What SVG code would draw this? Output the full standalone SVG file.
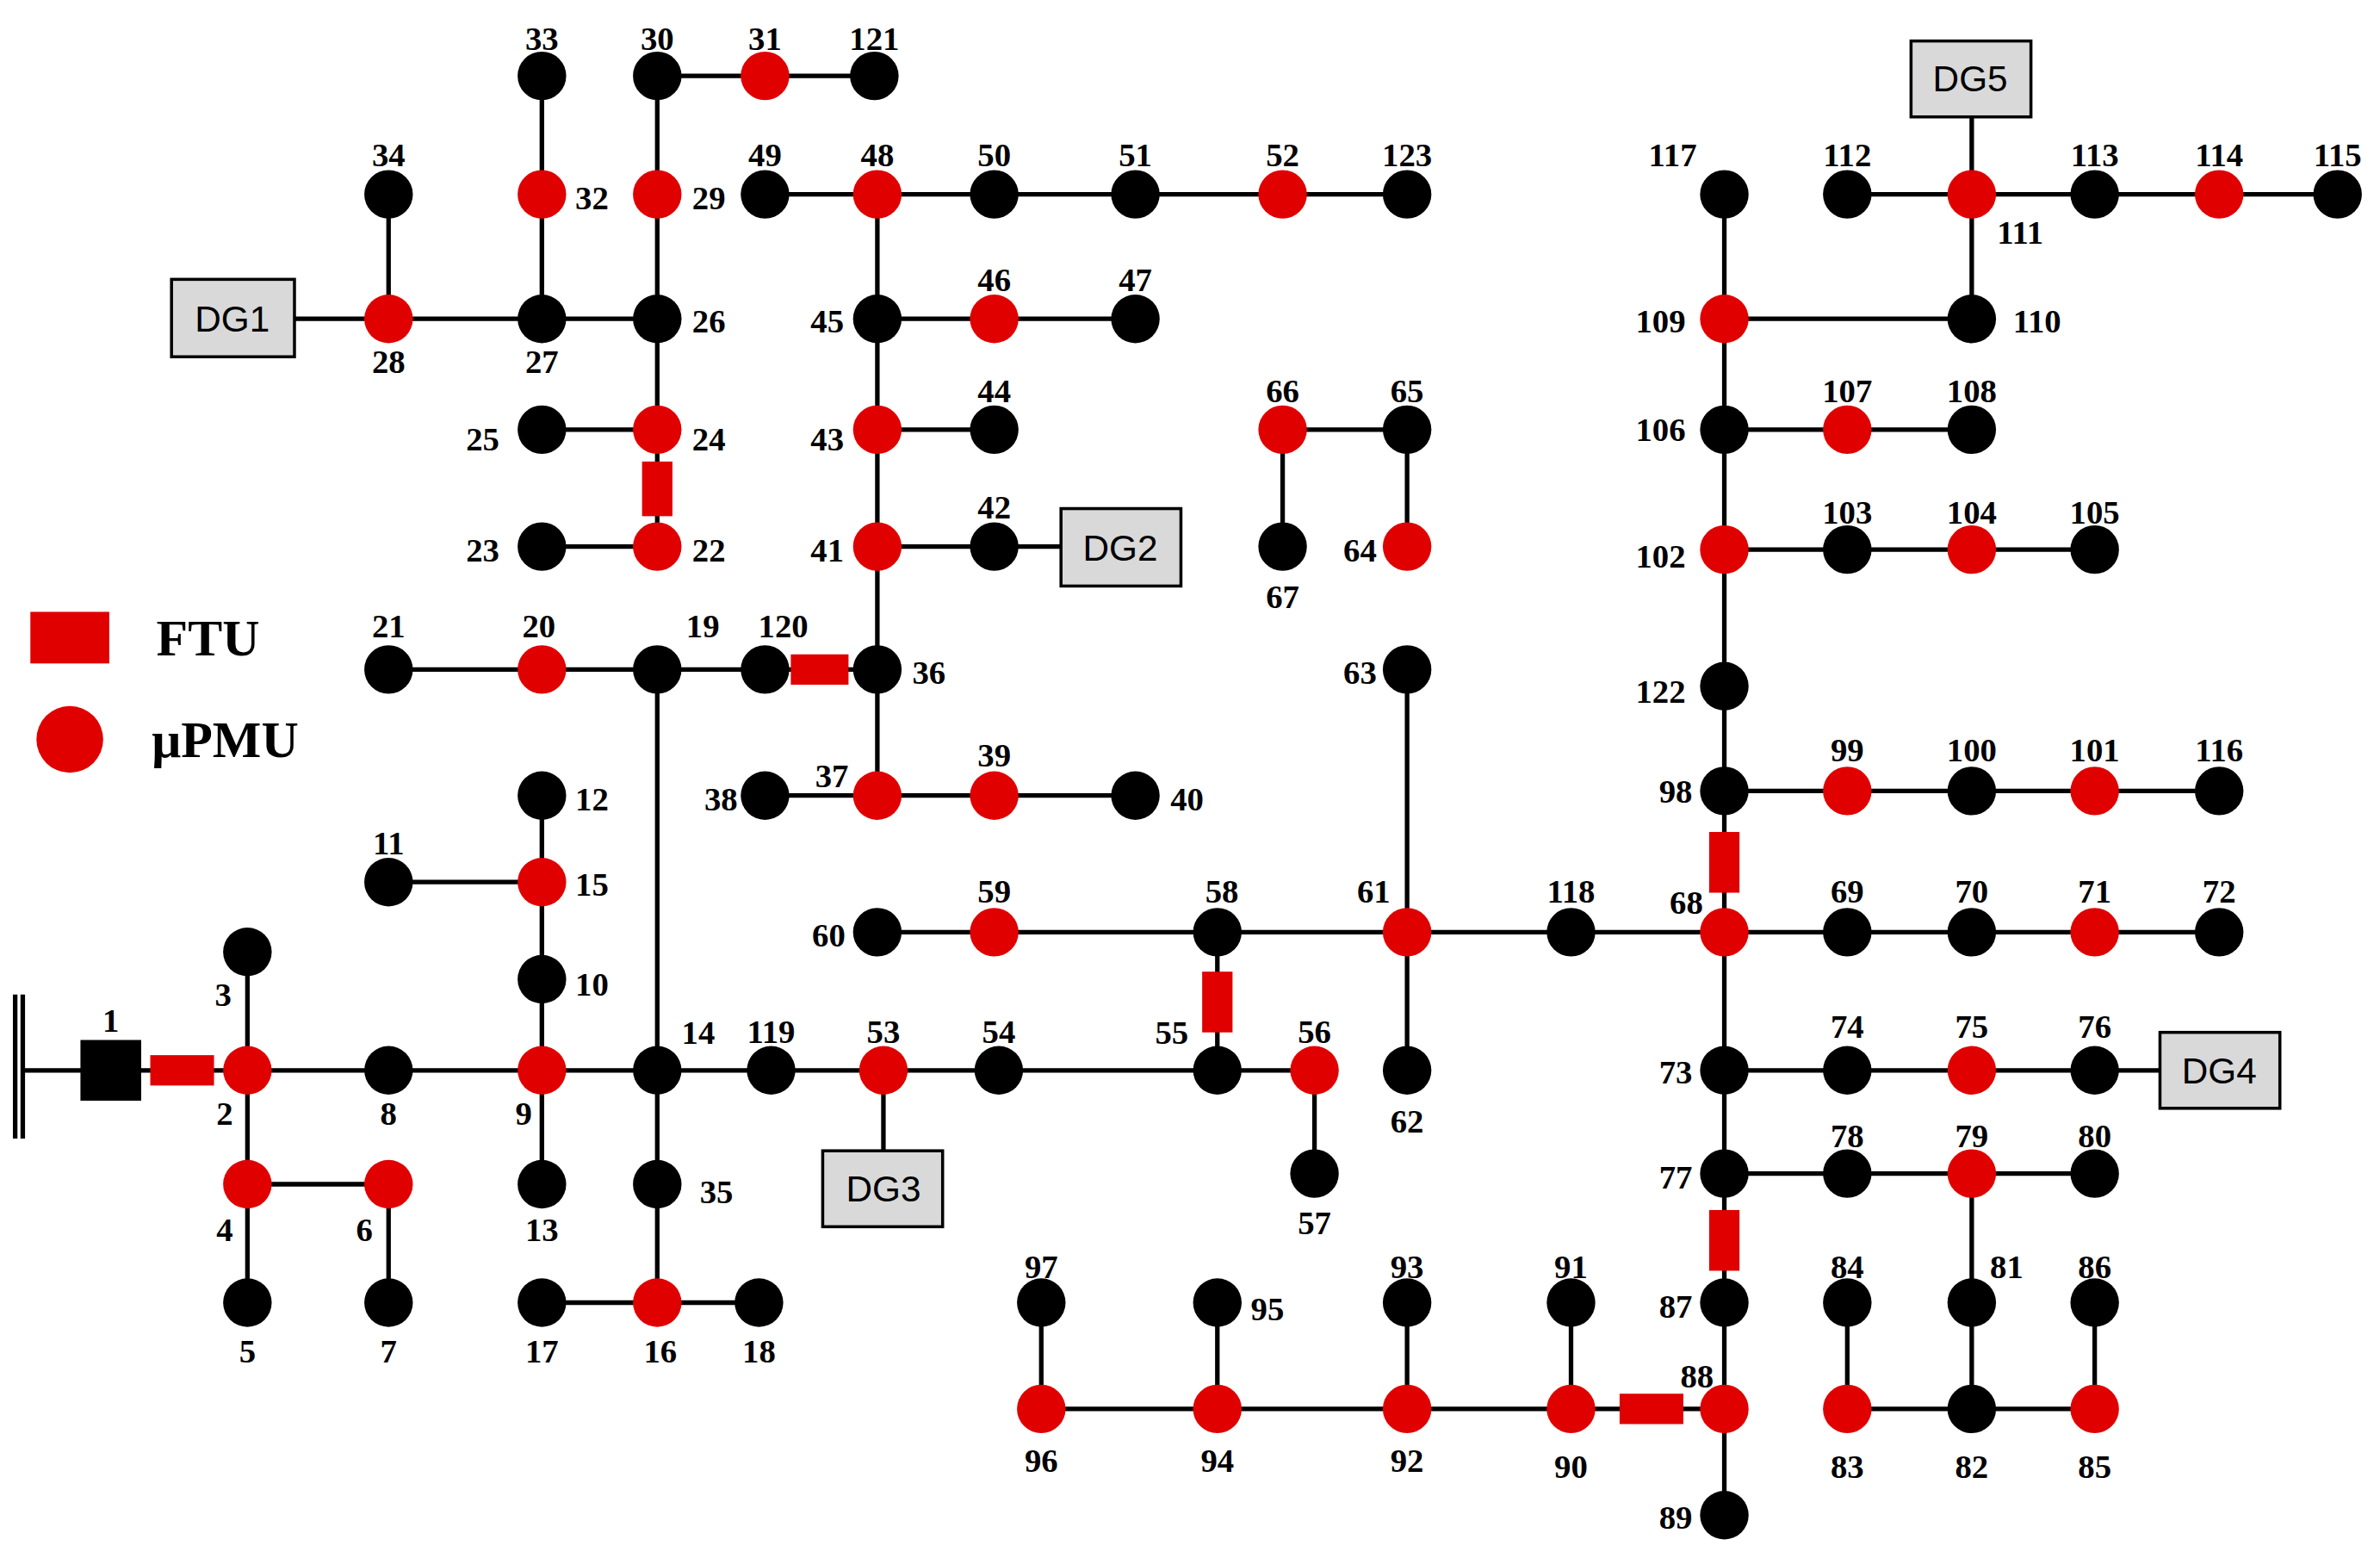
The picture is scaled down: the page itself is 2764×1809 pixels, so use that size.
<svg xmlns="http://www.w3.org/2000/svg" width="2764" height="1809" viewBox="0 0 2764 1809">
<style>
.e{stroke:#000;stroke-width:3;fill:none}
.b{fill:#000}.r{fill:#e00000}
.f{fill:#e00000}
text{font-family:"Liberation Serif",serif;font-weight:bold;font-size:22px;text-anchor:middle}
.dg rect{fill:#d9d9d9;stroke:#000;stroke-width:2}
.dg text{font-family:"Liberation Sans",sans-serif;font-weight:normal;font-size:24px}
.lg{font-size:34px;text-anchor:start}
</style>
<rect width="2764" height="1809" fill="#fff"/>
<g transform="scale(1.7628)">
<g id="connectors" class="e">
<path d="M10 655V750M15 655V750M15 705H73"/>
<path d="M73 705H163M163 627V858M163 780H256V858M163 705H433M357 524V780M256 581H357M433 441V858M357 858H500M433 705H866V773M582 705V758M802 705V614"/>
<path d="M256 441H578M433 360V50M357 360H433M357 283H433M194 210H433M256 128V210M357 50V210M433 50H576M578 128V524M504 524H748M578 360H699M578 283H655M578 210H748M504 128H927"/>
<path d="M578 614H1462M927 705V441M927 360V283H845V360M1136 998V128M1136 521H1462M1136 362H1380M1136 283H1299M1136 210H1299V128M1299 77V128M1217 128H1540M1136 705H1423M1136 773H1380M1299 773V928M1217 858V928H1380V858M686 858V928H1136M802 858V928M927 858V928M1035 858V928"/>
</g>
<g id="ftus" class="f">
<rect x="99" y="695" width="42" height="20"/>
<rect x="423" y="304" width="20" height="36"/>
<rect x="521" y="431" width="38" height="20"/>
<rect x="792" y="640" width="20" height="40"/>
<rect x="1126" y="548" width="20" height="40"/>
<rect x="1126" y="797" width="20" height="40"/>
<rect x="1067" y="918" width="42" height="20"/>
</g>
<g id="n1"><rect x="53" y="685" width="40" height="40" class="b"/><text x="73" y="672" dy=".35em">1</text></g>
<g id="n2"><circle cx="163" cy="705" r="16" class="r"/><text x="148" y="733" dy=".35em">2</text></g>
<g id="n3"><circle cx="163" cy="627" r="16" class="b"/><text x="147" y="655" dy=".35em">3</text></g>
<g id="n4"><circle cx="163" cy="780" r="16" class="r"/><text x="148" y="810" dy=".35em">4</text></g>
<g id="n5"><circle cx="163" cy="858" r="16" class="b"/><text x="163" y="890" dy=".35em">5</text></g>
<g id="n6"><circle cx="256" cy="780" r="16" class="r"/><text x="240" y="810" dy=".35em">6</text></g>
<g id="n7"><circle cx="256" cy="858" r="16" class="b"/><text x="256" y="890" dy=".35em">7</text></g>
<g id="n8"><circle cx="256" cy="705" r="16" class="b"/><text x="256" y="733" dy=".35em">8</text></g>
<g id="n9"><circle cx="357" cy="705" r="16" class="r"/><text x="345" y="733" dy=".35em">9</text></g>
<g id="n10"><circle cx="357" cy="645" r="16" class="b"/><text x="390" y="648" dy=".35em">10</text></g>
<g id="n11"><circle cx="256" cy="581" r="16" class="b"/><text x="256" y="555" dy=".35em">11</text></g>
<g id="n12"><circle cx="357" cy="524" r="16" class="b"/><text x="390" y="526" dy=".35em">12</text></g>
<g id="n13"><circle cx="357" cy="780" r="16" class="b"/><text x="357" y="810" dy=".35em">13</text></g>
<g id="n14"><circle cx="433" cy="705" r="16" class="b"/><text x="460" y="680" dy=".35em">14</text></g>
<g id="n15"><circle cx="357" cy="581" r="16" class="r"/><text x="390" y="582" dy=".35em">15</text></g>
<g id="n16"><circle cx="433" cy="858" r="16" class="r"/><text x="435" y="890" dy=".35em">16</text></g>
<g id="n17"><circle cx="357" cy="858" r="16" class="b"/><text x="357" y="890" dy=".35em">17</text></g>
<g id="n18"><circle cx="500" cy="858" r="16" class="b"/><text x="500" y="890" dy=".35em">18</text></g>
<g id="n19"><circle cx="433" cy="441" r="16" class="b"/><text x="463" y="412" dy=".35em">19</text></g>
<g id="n20"><circle cx="357" cy="441" r="16" class="r"/><text x="355" y="412" dy=".35em">20</text></g>
<g id="n21"><circle cx="256" cy="441" r="16" class="b"/><text x="256" y="412" dy=".35em">21</text></g>
<g id="n22"><circle cx="433" cy="360" r="16" class="r"/><text x="467" y="362" dy=".35em">22</text></g>
<g id="n23"><circle cx="357" cy="360" r="16" class="b"/><text x="318" y="362" dy=".35em">23</text></g>
<g id="n24"><circle cx="433" cy="283" r="16" class="r"/><text x="467" y="289" dy=".35em">24</text></g>
<g id="n25"><circle cx="357" cy="283" r="16" class="b"/><text x="318" y="289" dy=".35em">25</text></g>
<g id="n26"><circle cx="433" cy="210" r="16" class="b"/><text x="467" y="211" dy=".35em">26</text></g>
<g id="n27"><circle cx="357" cy="210" r="16" class="b"/><text x="357" y="238" dy=".35em">27</text></g>
<g id="n28"><circle cx="256" cy="210" r="16" class="r"/><text x="256" y="238" dy=".35em">28</text></g>
<g id="n29"><circle cx="433" cy="128" r="16" class="r"/><text x="467" y="130" dy=".35em">29</text></g>
<g id="n30"><circle cx="433" cy="50" r="16" class="b"/><text x="433" y="25" dy=".35em">30</text></g>
<g id="n31"><circle cx="504" cy="50" r="16" class="r"/><text x="504" y="25" dy=".35em">31</text></g>
<g id="n32"><circle cx="357" cy="128" r="16" class="r"/><text x="390" y="130" dy=".35em">32</text></g>
<g id="n33"><circle cx="357" cy="50" r="16" class="b"/><text x="357" y="25" dy=".35em">33</text></g>
<g id="n34"><circle cx="256" cy="128" r="16" class="b"/><text x="256" y="102" dy=".35em">34</text></g>
<g id="n35"><circle cx="433" cy="780" r="16" class="b"/><text x="472" y="785" dy=".35em">35</text></g>
<g id="n36"><circle cx="578" cy="441" r="16" class="b"/><text x="612" y="443" dy=".35em">36</text></g>
<g id="n37"><circle cx="578" cy="524" r="16" class="r"/><text x="548" y="511" dy=".35em">37</text></g>
<g id="n38"><circle cx="504" cy="524" r="16" class="b"/><text x="475" y="526" dy=".35em">38</text></g>
<g id="n39"><circle cx="655" cy="524" r="16" class="r"/><text x="655" y="497" dy=".35em">39</text></g>
<g id="n40"><circle cx="748" cy="524" r="16" class="b"/><text x="782" y="526" dy=".35em">40</text></g>
<g id="n41"><circle cx="578" cy="360" r="16" class="r"/><text x="545" y="362" dy=".35em">41</text></g>
<g id="n42"><circle cx="655" cy="360" r="16" class="b"/><text x="655" y="334" dy=".35em">42</text></g>
<g id="n43"><circle cx="578" cy="283" r="16" class="r"/><text x="545" y="289" dy=".35em">43</text></g>
<g id="n44"><circle cx="655" cy="283" r="16" class="b"/><text x="655" y="257" dy=".35em">44</text></g>
<g id="n45"><circle cx="578" cy="210" r="16" class="b"/><text x="545" y="211" dy=".35em">45</text></g>
<g id="n46"><circle cx="655" cy="210" r="16" class="r"/><text x="655" y="184" dy=".35em">46</text></g>
<g id="n47"><circle cx="748" cy="210" r="16" class="b"/><text x="748" y="184" dy=".35em">47</text></g>
<g id="n48"><circle cx="578" cy="128" r="16" class="r"/><text x="578" y="102" dy=".35em">48</text></g>
<g id="n49"><circle cx="504" cy="128" r="16" class="b"/><text x="504" y="102" dy=".35em">49</text></g>
<g id="n50"><circle cx="655" cy="128" r="16" class="b"/><text x="655" y="102" dy=".35em">50</text></g>
<g id="n51"><circle cx="748" cy="128" r="16" class="b"/><text x="748" y="102" dy=".35em">51</text></g>
<g id="n52"><circle cx="845" cy="128" r="16" class="r"/><text x="845" y="102" dy=".35em">52</text></g>
<g id="n123"><circle cx="927" cy="128" r="16" class="b"/><text x="927" y="102" dy=".35em">123</text></g>
<g id="n53"><circle cx="582" cy="705" r="16" class="r"/><text x="582" y="679" dy=".35em">53</text></g>
<g id="n54"><circle cx="658" cy="705" r="16" class="b"/><text x="658" y="679" dy=".35em">54</text></g>
<g id="n55"><circle cx="802" cy="705" r="16" class="b"/><text x="772" y="680" dy=".35em">55</text></g>
<g id="n56"><circle cx="866" cy="705" r="16" class="r"/><text x="866" y="679" dy=".35em">56</text></g>
<g id="n57"><circle cx="866" cy="773" r="16" class="b"/><text x="866" y="805" dy=".35em">57</text></g>
<g id="n58"><circle cx="802" cy="614" r="16" class="b"/><text x="805" y="587" dy=".35em">58</text></g>
<g id="n59"><circle cx="655" cy="614" r="16" class="r"/><text x="655" y="587" dy=".35em">59</text></g>
<g id="n60"><circle cx="578" cy="614" r="16" class="b"/><text x="546" y="616" dy=".35em">60</text></g>
<g id="n61"><circle cx="927" cy="614" r="16" class="r"/><text x="905" y="587" dy=".35em">61</text></g>
<g id="n62"><circle cx="927" cy="705" r="16" class="b"/><text x="927" y="738" dy=".35em">62</text></g>
<g id="n63"><circle cx="927" cy="441" r="16" class="b"/><text x="896" y="443" dy=".35em">63</text></g>
<g id="n64"><circle cx="927" cy="360" r="16" class="r"/><text x="896" y="362" dy=".35em">64</text></g>
<g id="n65"><circle cx="927" cy="283" r="16" class="b"/><text x="927" y="257" dy=".35em">65</text></g>
<g id="n66"><circle cx="845" cy="283" r="16" class="r"/><text x="845" y="257" dy=".35em">66</text></g>
<g id="n67"><circle cx="845" cy="360" r="16" class="b"/><text x="845" y="393" dy=".35em">67</text></g>
<g id="n68"><circle cx="1136" cy="614" r="16" class="r"/><text x="1111" y="594" dy=".35em">68</text></g>
<g id="n69"><circle cx="1217" cy="614" r="16" class="b"/><text x="1217" y="587" dy=".35em">69</text></g>
<g id="n70"><circle cx="1299" cy="614" r="16" class="b"/><text x="1299" y="587" dy=".35em">70</text></g>
<g id="n71"><circle cx="1380" cy="614" r="16" class="r"/><text x="1380" y="587" dy=".35em">71</text></g>
<g id="n72"><circle cx="1462" cy="614" r="16" class="b"/><text x="1462" y="587" dy=".35em">72</text></g>
<g id="n73"><circle cx="1136" cy="705" r="16" class="b"/><text x="1104" y="706" dy=".35em">73</text></g>
<g id="n74"><circle cx="1217" cy="705" r="16" class="b"/><text x="1217" y="676" dy=".35em">74</text></g>
<g id="n75"><circle cx="1299" cy="705" r="16" class="r"/><text x="1299" y="676" dy=".35em">75</text></g>
<g id="n76"><circle cx="1380" cy="705" r="16" class="b"/><text x="1380" y="676" dy=".35em">76</text></g>
<g id="n77"><circle cx="1136" cy="773" r="16" class="b"/><text x="1104" y="775" dy=".35em">77</text></g>
<g id="n78"><circle cx="1217" cy="773" r="16" class="b"/><text x="1217" y="748" dy=".35em">78</text></g>
<g id="n79"><circle cx="1299" cy="773" r="16" class="r"/><text x="1299" y="748" dy=".35em">79</text></g>
<g id="n80"><circle cx="1380" cy="773" r="16" class="b"/><text x="1380" y="748" dy=".35em">80</text></g>
<g id="n81"><circle cx="1299" cy="858" r="16" class="b"/><text x="1322" y="834" dy=".35em">81</text></g>
<g id="n82"><circle cx="1299" cy="928" r="16" class="b"/><text x="1299" y="966" dy=".35em">82</text></g>
<g id="n83"><circle cx="1217" cy="928" r="16" class="r"/><text x="1217" y="966" dy=".35em">83</text></g>
<g id="n84"><circle cx="1217" cy="858" r="16" class="b"/><text x="1217" y="834" dy=".35em">84</text></g>
<g id="n85"><circle cx="1380" cy="928" r="16" class="r"/><text x="1380" y="966" dy=".35em">85</text></g>
<g id="n86"><circle cx="1380" cy="858" r="16" class="b"/><text x="1380" y="834" dy=".35em">86</text></g>
<g id="n87"><circle cx="1136" cy="858" r="16" class="b"/><text x="1104" y="860" dy=".35em">87</text></g>
<g id="n88"><circle cx="1136" cy="928" r="16" class="r"/><text x="1118" y="906" dy=".35em">88</text></g>
<g id="n89"><circle cx="1136" cy="998" r="16" class="b"/><text x="1104" y="999" dy=".35em">89</text></g>
<g id="n90"><circle cx="1035" cy="928" r="16" class="r"/><text x="1035" y="966" dy=".35em">90</text></g>
<g id="n91"><circle cx="1035" cy="858" r="16" class="b"/><text x="1035" y="834" dy=".35em">91</text></g>
<g id="n92"><circle cx="927" cy="928" r="16" class="r"/><text x="927" y="962" dy=".35em">92</text></g>
<g id="n93"><circle cx="927" cy="858" r="16" class="b"/><text x="927" y="834" dy=".35em">93</text></g>
<g id="n94"><circle cx="802" cy="928" r="16" class="r"/><text x="802" y="962" dy=".35em">94</text></g>
<g id="n95"><circle cx="802" cy="858" r="16" class="b"/><text x="835" y="862" dy=".35em">95</text></g>
<g id="n96"><circle cx="686" cy="928" r="16" class="r"/><text x="686" y="962" dy=".35em">96</text></g>
<g id="n97"><circle cx="686" cy="858" r="16" class="b"/><text x="686" y="834" dy=".35em">97</text></g>
<g id="n98"><circle cx="1136" cy="521" r="16" class="b"/><text x="1104" y="521" dy=".35em">98</text></g>
<g id="n99"><circle cx="1217" cy="521" r="16" class="r"/><text x="1217" y="494" dy=".35em">99</text></g>
<g id="n100"><circle cx="1299" cy="521" r="16" class="b"/><text x="1299" y="494" dy=".35em">100</text></g>
<g id="n101"><circle cx="1380" cy="521" r="16" class="r"/><text x="1380" y="494" dy=".35em">101</text></g>
<g id="n116"><circle cx="1462" cy="521" r="16" class="b"/><text x="1462" y="494" dy=".35em">116</text></g>
<g id="n102"><circle cx="1136" cy="362" r="16" class="r"/><text x="1094" y="366" dy=".35em">102</text></g>
<g id="n103"><circle cx="1217" cy="362" r="16" class="b"/><text x="1217" y="337" dy=".35em">103</text></g>
<g id="n104"><circle cx="1299" cy="362" r="16" class="r"/><text x="1299" y="337" dy=".35em">104</text></g>
<g id="n105"><circle cx="1380" cy="362" r="16" class="b"/><text x="1380" y="337" dy=".35em">105</text></g>
<g id="n106"><circle cx="1136" cy="283" r="16" class="b"/><text x="1094" y="283" dy=".35em">106</text></g>
<g id="n107"><circle cx="1217" cy="283" r="16" class="r"/><text x="1217" y="257" dy=".35em">107</text></g>
<g id="n108"><circle cx="1299" cy="283" r="16" class="b"/><text x="1299" y="257" dy=".35em">108</text></g>
<g id="n109"><circle cx="1136" cy="210" r="16" class="r"/><text x="1094" y="211" dy=".35em">109</text></g>
<g id="n110"><circle cx="1299" cy="210" r="16" class="b"/><text x="1342" y="211" dy=".35em">110</text></g>
<g id="n111"><circle cx="1299" cy="128" r="16" class="r"/><text x="1331" y="153" dy=".35em">111</text></g>
<g id="n112"><circle cx="1217" cy="128" r="16" class="b"/><text x="1217" y="102" dy=".35em">112</text></g>
<g id="n113"><circle cx="1380" cy="128" r="16" class="b"/><text x="1380" y="102" dy=".35em">113</text></g>
<g id="n114"><circle cx="1462" cy="128" r="16" class="r"/><text x="1462" y="102" dy=".35em">114</text></g>
<g id="n115"><circle cx="1540" cy="128" r="16" class="b"/><text x="1540" y="102" dy=".35em">115</text></g>
<g id="n117"><circle cx="1136" cy="128" r="16" class="b"/><text x="1102" y="102" dy=".35em">117</text></g>
<g id="n118"><circle cx="1035" cy="614" r="16" class="b"/><text x="1035" y="587" dy=".35em">118</text></g>
<g id="n119"><circle cx="508" cy="705" r="16" class="b"/><text x="508" y="679" dy=".35em">119</text></g>
<g id="n120"><circle cx="504" cy="441" r="16" class="b"/><text x="516" y="412" dy=".35em">120</text></g>
<g id="n121"><circle cx="576" cy="50" r="16" class="b"/><text x="576" y="25" dy=".35em">121</text></g>
<g id="n122"><circle cx="1136" cy="452" r="16" class="b"/><text x="1094" y="455" dy=".35em">122</text></g>
<g id="DG1" class="dg"><rect x="113" y="184" width="81" height="51"/><text x="153" y="210" dy=".35em">DG1</text></g>
<g id="DG2" class="dg"><rect x="699" y="335" width="79" height="51"/><text x="738" y="361" dy=".35em">DG2</text></g>
<g id="DG3" class="dg"><rect x="542" y="758" width="79" height="50"/><text x="582" y="783" dy=".35em">DG3</text></g>
<g id="DG4" class="dg"><rect x="1423" y="680" width="79" height="50"/><text x="1462" y="705" dy=".35em">DG4</text></g>
<g id="DG5" class="dg"><rect x="1259" y="27" width="79" height="50"/><text x="1298" y="52" dy=".35em">DG5</text></g>
<g id="legend">
<rect x="20" y="403" width="52" height="34" class="f"/><text x="103" y="420" dy=".35em" class="lg">FTU</text>
<circle cx="46" cy="487" r="22" class="r"/><text x="100" y="487" dy=".35em" class="lg">μPMU</text>
</g>
</g>
</svg>
